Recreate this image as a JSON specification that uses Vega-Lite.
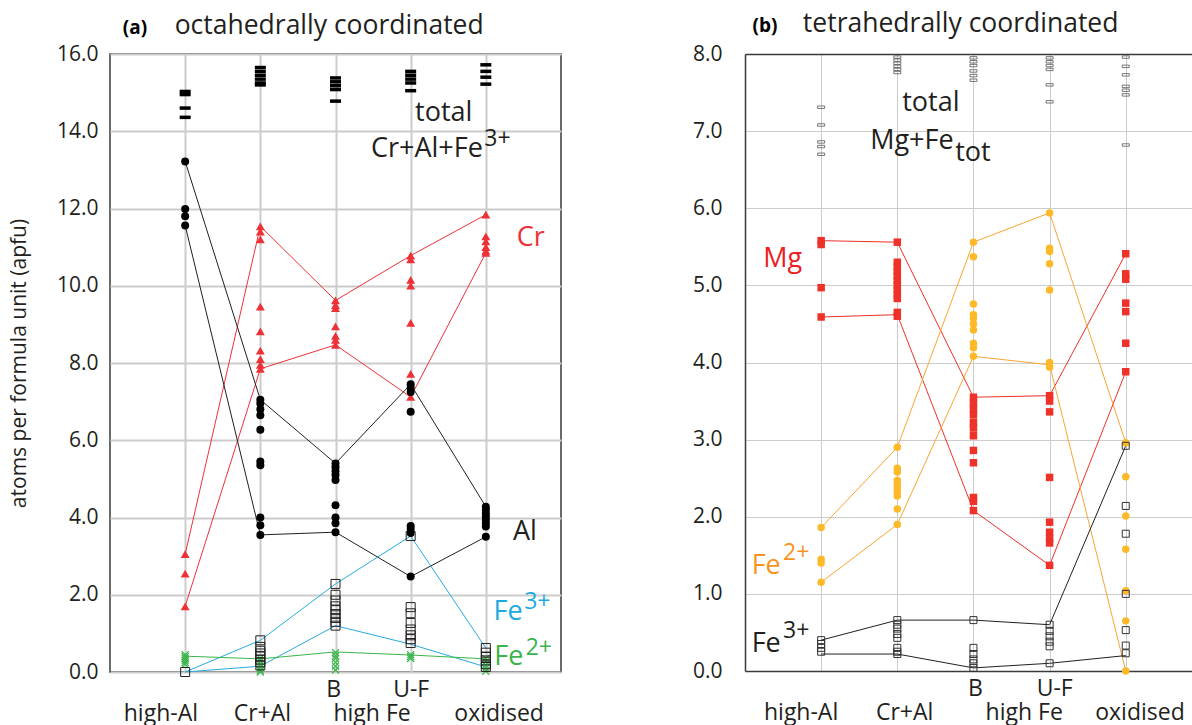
{
  "$schema": "https://vega.github.io/schema/vega-lite/v6.json",
  "padding": {"left": 7, "top": 10, "right": 0, "bottom": 0},
  "background": "white",
  "bounds": "flush",
  "spacing": 184,
  "resolve": {"scale": {"color": "independent"}},
  "config": {
    "font": "Open Sans",
    "axis": {"labelFont": "Open Sans", "titleFont": "Open Sans", "labelColor": "#231F20", "titleColor": "#231F20", "titleFontWeight": "normal"},
    "text": {"font": "Open Sans"}
  },
  "datasets": {
    "pts": [
      {"p":"a","s":"total","i":1,"v":15.03},{"p":"a","s":"total","i":1,"v":14.95},{"p":"a","s":"total","i":1,"v":14.6},{"p":"a","s":"total","i":1,"v":14.36},
      {"p":"a","s":"total","i":2,"v":15.65},{"p":"a","s":"total","i":2,"v":15.55},{"p":"a","s":"total","i":2,"v":15.45},{"p":"a","s":"total","i":2,"v":15.35},{"p":"a","s":"total","i":2,"v":15.25},{"p":"a","s":"total","i":2,"v":15.2},
      {"p":"a","s":"total","i":3,"v":15.38},{"p":"a","s":"total","i":3,"v":15.28},{"p":"a","s":"total","i":3,"v":15.18},{"p":"a","s":"total","i":3,"v":15.08},{"p":"a","s":"total","i":3,"v":14.78},
      {"p":"a","s":"total","i":4,"v":15.55},{"p":"a","s":"total","i":4,"v":15.45},{"p":"a","s":"total","i":4,"v":15.35},{"p":"a","s":"total","i":4,"v":15.25},{"p":"a","s":"total","i":4,"v":15.05},
      {"p":"a","s":"total","i":5,"v":15.72},{"p":"a","s":"total","i":5,"v":15.55},{"p":"a","s":"total","i":5,"v":15.4},{"p":"a","s":"total","i":5,"v":15.22},

      {"p":"a","s":"Cr","i":1,"v":3.05},{"p":"a","s":"Cr","i":1,"v":2.55},{"p":"a","s":"Cr","i":1,"v":1.7},
      {"p":"a","s":"Cr","i":2,"v":11.54},{"p":"a","s":"Cr","i":2,"v":11.4},{"p":"a","s":"Cr","i":2,"v":11.2},{"p":"a","s":"Cr","i":2,"v":9.46},{"p":"a","s":"Cr","i":2,"v":8.82},{"p":"a","s":"Cr","i":2,"v":8.32},{"p":"a","s":"Cr","i":2,"v":8.1},{"p":"a","s":"Cr","i":2,"v":7.95},{"p":"a","s":"Cr","i":2,"v":7.85},
      {"p":"a","s":"Cr","i":3,"v":9.62},{"p":"a","s":"Cr","i":3,"v":9.5},{"p":"a","s":"Cr","i":3,"v":9.42},{"p":"a","s":"Cr","i":3,"v":8.95},{"p":"a","s":"Cr","i":3,"v":8.7},{"p":"a","s":"Cr","i":3,"v":8.6},{"p":"a","s":"Cr","i":3,"v":8.47},
      {"p":"a","s":"Cr","i":4,"v":10.78},{"p":"a","s":"Cr","i":4,"v":10.68},{"p":"a","s":"Cr","i":4,"v":10.15},{"p":"a","s":"Cr","i":4,"v":10.0},{"p":"a","s":"Cr","i":4,"v":9.04},{"p":"a","s":"Cr","i":4,"v":7.72},{"p":"a","s":"Cr","i":4,"v":7.12},
      {"p":"a","s":"Cr","i":5,"v":11.84},{"p":"a","s":"Cr","i":5,"v":11.28},{"p":"a","s":"Cr","i":5,"v":11.15},{"p":"a","s":"Cr","i":5,"v":11.0},{"p":"a","s":"Cr","i":5,"v":10.9},{"p":"a","s":"Cr","i":5,"v":10.85},

      {"p":"a","s":"Al","i":1,"v":13.22},{"p":"a","s":"Al","i":1,"v":11.99},{"p":"a","s":"Al","i":1,"v":11.8},{"p":"a","s":"Al","i":1,"v":11.56},
      {"p":"a","s":"Al","i":2,"v":7.05},{"p":"a","s":"Al","i":2,"v":6.95},{"p":"a","s":"Al","i":2,"v":6.8},{"p":"a","s":"Al","i":2,"v":6.65},{"p":"a","s":"Al","i":2,"v":6.27},{"p":"a","s":"Al","i":2,"v":5.45},{"p":"a","s":"Al","i":2,"v":5.35},{"p":"a","s":"Al","i":2,"v":4.0},{"p":"a","s":"Al","i":2,"v":3.8},{"p":"a","s":"Al","i":2,"v":3.55},
      {"p":"a","s":"Al","i":3,"v":5.4},{"p":"a","s":"Al","i":3,"v":5.3},{"p":"a","s":"Al","i":3,"v":5.2},{"p":"a","s":"Al","i":3,"v":5.1},{"p":"a","s":"Al","i":3,"v":4.97},{"p":"a","s":"Al","i":3,"v":4.32},{"p":"a","s":"Al","i":3,"v":4.0},{"p":"a","s":"Al","i":3,"v":3.85},{"p":"a","s":"Al","i":3,"v":3.62},
      {"p":"a","s":"Al","i":4,"v":7.45},{"p":"a","s":"Al","i":4,"v":7.36},{"p":"a","s":"Al","i":4,"v":7.25},{"p":"a","s":"Al","i":4,"v":6.74},{"p":"a","s":"Al","i":4,"v":3.78},{"p":"a","s":"Al","i":4,"v":3.7},{"p":"a","s":"Al","i":4,"v":3.6},{"p":"a","s":"Al","i":4,"v":2.47},
      {"p":"a","s":"Al","i":5,"v":4.28},{"p":"a","s":"Al","i":5,"v":4.2},{"p":"a","s":"Al","i":5,"v":4.11},{"p":"a","s":"Al","i":5,"v":4.03},{"p":"a","s":"Al","i":5,"v":3.94},{"p":"a","s":"Al","i":5,"v":3.85},{"p":"a","s":"Al","i":5,"v":3.77},{"p":"a","s":"Al","i":5,"v":3.5},

      {"p":"a","s":"Fe3","i":1,"v":0.0},
      {"p":"a","s":"Fe3","i":2,"v":0.82},{"p":"a","s":"Fe3","i":2,"v":0.65},{"p":"a","s":"Fe3","i":2,"v":0.55},{"p":"a","s":"Fe3","i":2,"v":0.48},{"p":"a","s":"Fe3","i":2,"v":0.4},{"p":"a","s":"Fe3","i":2,"v":0.32},{"p":"a","s":"Fe3","i":2,"v":0.25},{"p":"a","s":"Fe3","i":2,"v":0.17},
      {"p":"a","s":"Fe3","i":3,"v":2.28},{"p":"a","s":"Fe3","i":3,"v":2.0},{"p":"a","s":"Fe3","i":3,"v":1.85},{"p":"a","s":"Fe3","i":3,"v":1.7},{"p":"a","s":"Fe3","i":3,"v":1.6},{"p":"a","s":"Fe3","i":3,"v":1.5},{"p":"a","s":"Fe3","i":3,"v":1.4},{"p":"a","s":"Fe3","i":3,"v":1.3},{"p":"a","s":"Fe3","i":3,"v":1.2},
      {"p":"a","s":"Fe3","i":4,"v":3.52},{"p":"a","s":"Fe3","i":4,"v":1.68},{"p":"a","s":"Fe3","i":4,"v":1.52},{"p":"a","s":"Fe3","i":4,"v":1.27},{"p":"a","s":"Fe3","i":4,"v":1.1},{"p":"a","s":"Fe3","i":4,"v":0.95},{"p":"a","s":"Fe3","i":4,"v":0.85},{"p":"a","s":"Fe3","i":4,"v":0.75},
      {"p":"a","s":"Fe3","i":5,"v":0.62},{"p":"a","s":"Fe3","i":5,"v":0.5},{"p":"a","s":"Fe3","i":5,"v":0.4},{"p":"a","s":"Fe3","i":5,"v":0.3},{"p":"a","s":"Fe3","i":5,"v":0.2},{"p":"a","s":"Fe3","i":5,"v":0.13},

      {"p":"a","s":"Fe2","i":1,"v":0.45},{"p":"a","s":"Fe2","i":1,"v":0.4},{"p":"a","s":"Fe2","i":1,"v":0.35},{"p":"a","s":"Fe2","i":1,"v":0.3},{"p":"a","s":"Fe2","i":1,"v":0.25},{"p":"a","s":"Fe2","i":1,"v":0.2},
      {"p":"a","s":"Fe2","i":2,"v":0.35},{"p":"a","s":"Fe2","i":2,"v":0.28},{"p":"a","s":"Fe2","i":2,"v":0.2},{"p":"a","s":"Fe2","i":2,"v":0.12},{"p":"a","s":"Fe2","i":2,"v":0.05},{"p":"a","s":"Fe2","i":2,"v":0.0},
      {"p":"a","s":"Fe2","i":3,"v":0.5},{"p":"a","s":"Fe2","i":3,"v":0.42},{"p":"a","s":"Fe2","i":3,"v":0.35},{"p":"a","s":"Fe2","i":3,"v":0.25},{"p":"a","s":"Fe2","i":3,"v":0.15},{"p":"a","s":"Fe2","i":3,"v":0.05},
      {"p":"a","s":"Fe2","i":4,"v":0.45},{"p":"a","s":"Fe2","i":4,"v":0.4},{"p":"a","s":"Fe2","i":4,"v":0.35},
      {"p":"a","s":"Fe2","i":5,"v":0.35},{"p":"a","s":"Fe2","i":5,"v":0.27},{"p":"a","s":"Fe2","i":5,"v":0.18},{"p":"a","s":"Fe2","i":5,"v":0.1},{"p":"a","s":"Fe2","i":5,"v":0.02},

      {"p":"b","s":"total","i":1,"v":7.31},{"p":"b","s":"total","i":1,"v":7.08},{"p":"b","s":"total","i":1,"v":6.86},{"p":"b","s":"total","i":1,"v":6.8},{"p":"b","s":"total","i":1,"v":6.7},
      {"p":"b","s":"total","i":2,"v":7.96},{"p":"b","s":"total","i":2,"v":7.92},{"p":"b","s":"total","i":2,"v":7.88},{"p":"b","s":"total","i":2,"v":7.84},{"p":"b","s":"total","i":2,"v":7.8},{"p":"b","s":"total","i":2,"v":7.76},
      {"p":"b","s":"total","i":3,"v":7.95},{"p":"b","s":"total","i":3,"v":7.9},{"p":"b","s":"total","i":3,"v":7.85},{"p":"b","s":"total","i":3,"v":7.78},{"p":"b","s":"total","i":3,"v":7.72},{"p":"b","s":"total","i":3,"v":7.66},
      {"p":"b","s":"total","i":4,"v":7.95},{"p":"b","s":"total","i":4,"v":7.9},{"p":"b","s":"total","i":4,"v":7.85},{"p":"b","s":"total","i":4,"v":7.8},{"p":"b","s":"total","i":4,"v":7.6},{"p":"b","s":"total","i":4,"v":7.38},
      {"p":"b","s":"total","i":5,"v":7.96},{"p":"b","s":"total","i":5,"v":7.84},{"p":"b","s":"total","i":5,"v":7.73},{"p":"b","s":"total","i":5,"v":7.58},{"p":"b","s":"total","i":5,"v":7.53},{"p":"b","s":"total","i":5,"v":7.47},{"p":"b","s":"total","i":5,"v":6.82},

      {"p":"b","s":"Mg","i":1,"v":5.58},{"p":"b","s":"Mg","i":1,"v":5.53},{"p":"b","s":"Mg","i":1,"v":4.97},{"p":"b","s":"Mg","i":1,"v":4.59},
      {"p":"b","s":"Mg","i":2,"v":5.56},{"p":"b","s":"Mg","i":2,"v":5.3},{"p":"b","s":"Mg","i":2,"v":5.24},{"p":"b","s":"Mg","i":2,"v":5.18},{"p":"b","s":"Mg","i":2,"v":5.12},{"p":"b","s":"Mg","i":2,"v":5.06},{"p":"b","s":"Mg","i":2,"v":5.0},{"p":"b","s":"Mg","i":2,"v":4.94},{"p":"b","s":"Mg","i":2,"v":4.88},{"p":"b","s":"Mg","i":2,"v":4.83},{"p":"b","s":"Mg","i":2,"v":4.65},{"p":"b","s":"Mg","i":2,"v":4.6},
      {"p":"b","s":"Mg","i":3,"v":3.55},{"p":"b","s":"Mg","i":3,"v":3.47},{"p":"b","s":"Mg","i":3,"v":3.4},{"p":"b","s":"Mg","i":3,"v":3.32},{"p":"b","s":"Mg","i":3,"v":3.22},{"p":"b","s":"Mg","i":3,"v":3.15},{"p":"b","s":"Mg","i":3,"v":3.05},{"p":"b","s":"Mg","i":3,"v":2.86},{"p":"b","s":"Mg","i":3,"v":2.7},{"p":"b","s":"Mg","i":3,"v":2.25},{"p":"b","s":"Mg","i":3,"v":2.2},{"p":"b","s":"Mg","i":3,"v":2.08},
      {"p":"b","s":"Mg","i":4,"v":3.57},{"p":"b","s":"Mg","i":4,"v":3.5},{"p":"b","s":"Mg","i":4,"v":3.36},{"p":"b","s":"Mg","i":4,"v":2.51},{"p":"b","s":"Mg","i":4,"v":1.93},{"p":"b","s":"Mg","i":4,"v":1.8},{"p":"b","s":"Mg","i":4,"v":1.72},{"p":"b","s":"Mg","i":4,"v":1.66},{"p":"b","s":"Mg","i":4,"v":1.37},
      {"p":"b","s":"Mg","i":5,"v":5.41},{"p":"b","s":"Mg","i":5,"v":5.15},{"p":"b","s":"Mg","i":5,"v":5.08},{"p":"b","s":"Mg","i":5,"v":4.77},{"p":"b","s":"Mg","i":5,"v":4.66},{"p":"b","s":"Mg","i":5,"v":4.25},{"p":"b","s":"Mg","i":5,"v":3.88},

      {"p":"b","s":"Fe2","i":1,"v":1.86},{"p":"b","s":"Fe2","i":1,"v":1.45},{"p":"b","s":"Fe2","i":1,"v":1.4},{"p":"b","s":"Fe2","i":1,"v":1.15},
      {"p":"b","s":"Fe2","i":2,"v":2.9},{"p":"b","s":"Fe2","i":2,"v":2.63},{"p":"b","s":"Fe2","i":2,"v":2.58},{"p":"b","s":"Fe2","i":2,"v":2.47},{"p":"b","s":"Fe2","i":2,"v":2.42},{"p":"b","s":"Fe2","i":2,"v":2.37},{"p":"b","s":"Fe2","i":2,"v":2.32},{"p":"b","s":"Fe2","i":2,"v":2.27},{"p":"b","s":"Fe2","i":2,"v":2.1},{"p":"b","s":"Fe2","i":2,"v":1.9},
      {"p":"b","s":"Fe2","i":3,"v":5.56},{"p":"b","s":"Fe2","i":3,"v":5.37},{"p":"b","s":"Fe2","i":3,"v":4.76},{"p":"b","s":"Fe2","i":3,"v":4.62},{"p":"b","s":"Fe2","i":3,"v":4.57},{"p":"b","s":"Fe2","i":3,"v":4.5},{"p":"b","s":"Fe2","i":3,"v":4.42},{"p":"b","s":"Fe2","i":3,"v":4.25},{"p":"b","s":"Fe2","i":3,"v":4.19},{"p":"b","s":"Fe2","i":3,"v":4.08},
      {"p":"b","s":"Fe2","i":4,"v":5.94},{"p":"b","s":"Fe2","i":4,"v":5.48},{"p":"b","s":"Fe2","i":4,"v":5.44},{"p":"b","s":"Fe2","i":4,"v":5.28},{"p":"b","s":"Fe2","i":4,"v":4.94},{"p":"b","s":"Fe2","i":4,"v":4.0},{"p":"b","s":"Fe2","i":4,"v":3.94},
      {"p":"b","s":"Fe2","i":5,"v":2.96},{"p":"b","s":"Fe2","i":5,"v":2.52},{"p":"b","s":"Fe2","i":5,"v":2.01},{"p":"b","s":"Fe2","i":5,"v":1.58},{"p":"b","s":"Fe2","i":5,"v":1.04},{"p":"b","s":"Fe2","i":5,"v":0.65},{"p":"b","s":"Fe2","i":5,"v":0.0},

      {"p":"b","s":"Fe3","i":1,"v":0.4},{"p":"b","s":"Fe3","i":1,"v":0.35},{"p":"b","s":"Fe3","i":1,"v":0.3},{"p":"b","s":"Fe3","i":1,"v":0.25},
      {"p":"b","s":"Fe3","i":2,"v":0.66},{"p":"b","s":"Fe3","i":2,"v":0.6},{"p":"b","s":"Fe3","i":2,"v":0.55},{"p":"b","s":"Fe3","i":2,"v":0.48},{"p":"b","s":"Fe3","i":2,"v":0.43},{"p":"b","s":"Fe3","i":2,"v":0.3},{"p":"b","s":"Fe3","i":2,"v":0.25},{"p":"b","s":"Fe3","i":2,"v":0.22},
      {"p":"b","s":"Fe3","i":3,"v":0.66},{"p":"b","s":"Fe3","i":3,"v":0.3},{"p":"b","s":"Fe3","i":3,"v":0.22},{"p":"b","s":"Fe3","i":3,"v":0.15},{"p":"b","s":"Fe3","i":3,"v":0.1},{"p":"b","s":"Fe3","i":3,"v":0.04},
      {"p":"b","s":"Fe3","i":4,"v":0.6},{"p":"b","s":"Fe3","i":4,"v":0.52},{"p":"b","s":"Fe3","i":4,"v":0.45},{"p":"b","s":"Fe3","i":4,"v":0.38},{"p":"b","s":"Fe3","i":4,"v":0.32},{"p":"b","s":"Fe3","i":4,"v":0.1},
      {"p":"b","s":"Fe3","i":5,"v":2.92},{"p":"b","s":"Fe3","i":5,"v":2.14},{"p":"b","s":"Fe3","i":5,"v":1.78},{"p":"b","s":"Fe3","i":5,"v":1.0},{"p":"b","s":"Fe3","i":5,"v":0.53},{"p":"b","s":"Fe3","i":5,"v":0.33},{"p":"b","s":"Fe3","i":5,"v":0.23}
    ],
    "lines": [
      {"p":"a","s":"Cr","b":"max","i":1,"v":3.05},{"p":"a","s":"Cr","b":"max","i":2,"v":11.54},{"p":"a","s":"Cr","b":"max","i":3,"v":9.62},{"p":"a","s":"Cr","b":"max","i":4,"v":10.78},{"p":"a","s":"Cr","b":"max","i":5,"v":11.84},
      {"p":"a","s":"Cr","b":"min","i":1,"v":1.7},{"p":"a","s":"Cr","b":"min","i":2,"v":7.85},{"p":"a","s":"Cr","b":"min","i":3,"v":8.47},{"p":"a","s":"Cr","b":"min","i":4,"v":7.12},{"p":"a","s":"Cr","b":"min","i":5,"v":10.85},
      {"p":"a","s":"Al","b":"max","i":1,"v":13.22},{"p":"a","s":"Al","b":"max","i":2,"v":7.05},{"p":"a","s":"Al","b":"max","i":3,"v":5.4},{"p":"a","s":"Al","b":"max","i":4,"v":7.45},{"p":"a","s":"Al","b":"max","i":5,"v":4.28},
      {"p":"a","s":"Al","b":"min","i":1,"v":11.56},{"p":"a","s":"Al","b":"min","i":2,"v":3.55},{"p":"a","s":"Al","b":"min","i":3,"v":3.62},{"p":"a","s":"Al","b":"min","i":4,"v":2.47},{"p":"a","s":"Al","b":"min","i":5,"v":3.5},
      {"p":"a","s":"Fe3","b":"max","i":1,"v":0.0},{"p":"a","s":"Fe3","b":"max","i":2,"v":0.82},{"p":"a","s":"Fe3","b":"max","i":3,"v":2.28},{"p":"a","s":"Fe3","b":"max","i":4,"v":3.52},{"p":"a","s":"Fe3","b":"max","i":5,"v":0.62},
      {"p":"a","s":"Fe3","b":"min","i":1,"v":0.0},{"p":"a","s":"Fe3","b":"min","i":2,"v":0.15},{"p":"a","s":"Fe3","b":"min","i":3,"v":1.2},{"p":"a","s":"Fe3","b":"min","i":4,"v":0.72},{"p":"a","s":"Fe3","b":"min","i":5,"v":0.13},
      {"p":"a","s":"Fe2","b":"max","i":1,"v":0.41},{"p":"a","s":"Fe2","b":"max","i":2,"v":0.34},{"p":"a","s":"Fe2","b":"max","i":3,"v":0.52},{"p":"a","s":"Fe2","b":"max","i":4,"v":0.44},{"p":"a","s":"Fe2","b":"max","i":5,"v":0.34},
      {"p":"b","s":"Mg","b":"max","i":1,"v":5.58},{"p":"b","s":"Mg","b":"max","i":2,"v":5.56},{"p":"b","s":"Mg","b":"max","i":3,"v":3.55},{"p":"b","s":"Mg","b":"max","i":4,"v":3.57},{"p":"b","s":"Mg","b":"max","i":5,"v":5.41},
      {"p":"b","s":"Mg","b":"min","i":1,"v":4.59},{"p":"b","s":"Mg","b":"min","i":2,"v":4.62},{"p":"b","s":"Mg","b":"min","i":3,"v":2.08},{"p":"b","s":"Mg","b":"min","i":4,"v":1.37},{"p":"b","s":"Mg","b":"min","i":5,"v":3.88},
      {"p":"b","s":"Fe2","b":"max","i":1,"v":1.86},{"p":"b","s":"Fe2","b":"max","i":2,"v":2.9},{"p":"b","s":"Fe2","b":"max","i":3,"v":5.56},{"p":"b","s":"Fe2","b":"max","i":4,"v":5.94},{"p":"b","s":"Fe2","b":"max","i":5,"v":2.96},
      {"p":"b","s":"Fe2","b":"min","i":1,"v":1.15},{"p":"b","s":"Fe2","b":"min","i":2,"v":1.9},{"p":"b","s":"Fe2","b":"min","i":3,"v":4.08},{"p":"b","s":"Fe2","b":"min","i":4,"v":3.97},{"p":"b","s":"Fe2","b":"min","i":5,"v":0.0},
      {"p":"b","s":"Fe3","b":"max","i":1,"v":0.4},{"p":"b","s":"Fe3","b":"max","i":2,"v":0.66},{"p":"b","s":"Fe3","b":"max","i":3,"v":0.66},{"p":"b","s":"Fe3","b":"max","i":4,"v":0.6},{"p":"b","s":"Fe3","b":"max","i":5,"v":2.92},
      {"p":"b","s":"Fe3","b":"min","i":1,"v":0.22},{"p":"b","s":"Fe3","b":"min","i":2,"v":0.22},{"p":"b","s":"Fe3","b":"min","i":3,"v":0.04},{"p":"b","s":"Fe3","b":"min","i":4,"v":0.1},{"p":"b","s":"Fe3","b":"min","i":5,"v":0.2}
    ]
  },
  "hconcat": [
    {
      "width": 451,
      "height": 618,
      "view": {"stroke": "#3a3a3a", "strokeWidth": 1.5},
      "resolve": {"axis": {"x": "independent"}},
      "layer": [
        {
          "data": {"name": "lines"},
          "transform": [{"filter": "datum.p == 'a'"}],
          "mark": {"type": "line", "strokeWidth": 1},
          "encoding": {
            "x": {"field": "i", "type": "quantitative", "scale": {"domain": [0, 6], "nice": false, "zero": false},
                  "axis": {"orient": "top", "values": [1, 2, 3, 4, 5], "grid": true, "gridColor": "#cccccc", "gridWidth": 2, "labels": false, "ticks": false, "domain": false, "title": null}},
            "y": {"field": "v", "type": "quantitative", "scale": {"domain": [0, 16], "nice": false, "zero": false},
                  "axis": {"values": [0, 2, 4, 6, 8, 10, 12, 14, 16], "format": ".1f", "grid": true, "gridColor": "#cccccc", "gridWidth": 2, "ticks": false, "domain": false, "labelFontSize": 21, "labelPadding": 12, "title": "atoms per formula unit (apfu)", "titleFontSize": 21, "titlePadding": 27}},
            "color": {"field": "s", "type": "nominal", "scale": {"domain": ["Cr", "Al", "Fe3", "Fe2"], "range": ["#ED3237", "#231F20", "#27AAE1", "#39B54A"]}, "legend": null},
            "detail": {"field": "b"}
          }
        },
        {
          "data": {"name": "pts"},
          "transform": [{"filter": "datum.p == 'a' && datum.s == 'total'"}],
          "mark": {"type": "point", "shape": "M-1,-0.32H1V0.32H-1Z", "filled": true, "color": "#000000", "size": 121, "opacity": 1},
          "encoding": {
            "x": {"field": "i", "type": "quantitative", "axis": null},
            "y": {"field": "v", "type": "quantitative"}
          }
        },
        {
          "data": {"name": "pts"},
          "transform": [{"filter": "datum.p == 'a' && datum.s == 'Fe2'"}],
          "mark": {"type": "point", "shape": "M-1,-1L1,1M1,-1L-1,1", "filled": false, "color": "#39B54A", "size": 50, "strokeWidth": 1.2, "opacity": 1},
          "encoding": {
            "x": {"field": "i", "type": "quantitative", "axis": null},
            "y": {"field": "v", "type": "quantitative"}
          }
        },
        {
          "data": {"name": "pts"},
          "transform": [{"filter": "datum.p == 'a' && datum.s == 'Cr'"}],
          "mark": {"type": "point", "shape": "triangle-up", "filled": true, "color": "#ED3237", "size": 80, "opacity": 1},
          "encoding": {
            "x": {"field": "i", "type": "quantitative", "axis": null},
            "y": {"field": "v", "type": "quantitative"}
          }
        },
        {
          "data": {"name": "pts"},
          "transform": [{"filter": "datum.p == 'a' && datum.s == 'Fe3'"}],
          "mark": {"type": "point", "shape": "square", "filled": false, "color": "#231F20", "size": 81, "strokeWidth": 1, "opacity": 1},
          "encoding": {
            "x": {"field": "i", "type": "quantitative", "axis": null},
            "y": {"field": "v", "type": "quantitative"}
          }
        },
        {
          "data": {"name": "pts"},
          "transform": [{"filter": "datum.p == 'a' && datum.s == 'Al'"}],
          "mark": {"type": "point", "shape": "circle", "filled": true, "color": "#000000", "size": 64, "opacity": 1},
          "encoding": {
            "x": {"field": "i", "type": "quantitative",
                  "axis": {"orient": "bottom", "values": [0.67, 2.02, 2.97, 3.48, 4.0, 5.17], "labelExpr": "datum.value < 1.5 ? ['', 'high-Al'] : datum.value < 2.5 ? ['', 'Cr+Al'] : datum.value < 3.2 ? 'B' : datum.value < 3.8 ? ['', 'high Fe'] : datum.value < 4.5 ? 'U-F' : ['', 'oxidised']", "grid": false, "ticks": false, "domain": false, "labelFontSize": 23, "labelPadding": 6, "labelLineHeight": 24, "labelOverlap": false, "labelFlush": false, "labelBound": false, "title": null}},
            "y": {"field": "v", "type": "quantitative"}
          }
        },
        {"data": {"values": [{}]}, "mark": {"type": "text", "text": "(a)", "fontSize": 19, "fontWeight": "bold", "align": "left", "baseline": "alphabetic", "color": "#000000"},
         "encoding": {"x": {"datum": 0.17, "type": "quantitative", "axis": null}, "y": {"datum": 16.53, "type": "quantitative"}}},
        {"data": {"values": [{}]}, "mark": {"type": "text", "text": "octahedrally coordinated", "fontSize": 26.5, "align": "left", "baseline": "alphabetic", "color": "#231F20"},
         "encoding": {"x": {"datum": 0.86, "type": "quantitative", "axis": null}, "y": {"datum": 16.53, "type": "quantitative"}}},
        {"data": {"values": [{}]}, "mark": {"type": "text", "text": "total", "fontSize": 27, "align": "center", "baseline": "middle", "color": "#231F20"},
         "encoding": {"x": {"datum": 4.44, "type": "quantitative", "axis": null}, "y": {"datum": 14.48, "type": "quantitative"}}},
        {"data": {"values": [{}]}, "mark": {"type": "text", "text": "Cr+Al+Fe", "fontSize": 27, "align": "right", "baseline": "middle", "color": "#231F20"},
         "encoding": {"x": {"datum": 4.96, "type": "quantitative", "axis": null}, "y": {"datum": 13.55, "type": "quantitative"}}},
        {"data": {"values": [{}]}, "mark": {"type": "text", "text": "3+", "fontSize": 23, "align": "left", "baseline": "middle", "color": "#231F20"},
         "encoding": {"x": {"datum": 4.98, "type": "quantitative", "axis": null}, "y": {"datum": 13.8, "type": "quantitative"}}},
        {"data": {"values": [{}]}, "mark": {"type": "text", "text": "Cr", "fontSize": 27, "align": "left", "baseline": "middle", "color": "#ED3237"},
         "encoding": {"x": {"datum": 5.41, "type": "quantitative", "axis": null}, "y": {"datum": 11.24, "type": "quantitative"}}},
        {"data": {"values": [{}]}, "mark": {"type": "text", "text": "Al", "fontSize": 27, "align": "left", "baseline": "middle", "color": "#231F20"},
         "encoding": {"x": {"datum": 5.36, "type": "quantitative", "axis": null}, "y": {"datum": 3.63, "type": "quantitative"}}},
        {"data": {"values": [{}]}, "mark": {"type": "text", "text": "Fe", "fontSize": 27, "align": "right", "baseline": "middle", "color": "#1CAAE2"},
         "encoding": {"x": {"datum": 5.49, "type": "quantitative", "axis": null}, "y": {"datum": 1.55, "type": "quantitative"}}},
        {"data": {"values": [{}]}, "mark": {"type": "text", "text": "3+", "fontSize": 23, "align": "left", "baseline": "middle", "color": "#1CAAE2"},
         "encoding": {"x": {"datum": 5.51, "type": "quantitative", "axis": null}, "y": {"datum": 1.8, "type": "quantitative"}}},
        {"data": {"values": [{}]}, "mark": {"type": "text", "text": "Fe", "fontSize": 27, "align": "right", "baseline": "middle", "color": "#39B54A"},
         "encoding": {"x": {"datum": 5.5, "type": "quantitative", "axis": null}, "y": {"datum": 0.39, "type": "quantitative"}}},
        {"data": {"values": [{}]}, "mark": {"type": "text", "text": "2+", "fontSize": 23, "align": "left", "baseline": "middle", "color": "#39B54A"},
         "encoding": {"x": {"datum": 5.53, "type": "quantitative", "axis": null}, "y": {"datum": 0.63, "type": "quantitative"}}}
      ]
    },
    {
      "width": 447,
      "height": 617,
      "view": {"stroke": null},
      "resolve": {"axis": {"x": "independent"}},
      "layer": [
        {
          "data": {"name": "lines"},
          "transform": [{"filter": "datum.p == 'b'"}],
          "mark": {"type": "line", "strokeWidth": 1},
          "encoding": {
            "x": {"field": "i", "type": "quantitative", "scale": {"domain": [0, 5.87], "nice": false, "zero": false},
                  "axis": {"orient": "top", "values": [1, 2, 3, 4, 5], "grid": true, "gridColor": "#cccccc", "gridWidth": 1, "labels": false, "ticks": false, "domain": true, "domainColor": "#3a3a3a", "domainWidth": 1.5, "title": null}},
            "y": {"field": "v", "type": "quantitative", "scale": {"domain": [0, 8], "nice": false, "zero": false},
                  "axis": {"values": [0, 1, 2, 3, 4, 5, 6, 7, 8], "format": ".1f", "grid": true, "gridColor": "#cccccc", "gridWidth": 1, "ticks": false, "domain": true, "domainColor": "#3a3a3a", "domainWidth": 1.5, "labelFontSize": 21, "labelPadding": 23, "title": null}},
            "color": {"field": "s", "type": "nominal", "scale": {"domain": ["Mg", "Fe2", "Fe3"], "range": ["#EE3129", "#F9A533", "#231F20"]}, "legend": null},
            "detail": {"field": "b"}
          }
        },
        {
          "data": {"name": "pts"},
          "transform": [{"filter": "datum.p == 'b' && datum.s == 'total'"}],
          "mark": {"type": "point", "shape": "M-1,-0.35H1V0.35H-1Z", "filled": false, "color": "#555555", "size": 49, "strokeWidth": 0.8, "opacity": 1},
          "encoding": {
            "x": {"field": "i", "type": "quantitative", "axis": null},
            "y": {"field": "v", "type": "quantitative"}
          }
        },
        {
          "data": {"name": "pts"},
          "transform": [{"filter": "datum.p == 'b' && datum.s == 'Mg'"}],
          "mark": {"type": "point", "shape": "square", "filled": true, "color": "#EE3129", "size": 56, "opacity": 1},
          "encoding": {
            "x": {"field": "i", "type": "quantitative", "axis": null},
            "y": {"field": "v", "type": "quantitative"}
          }
        },
        {
          "data": {"name": "pts"},
          "transform": [{"filter": "datum.p == 'b' && datum.s == 'Fe2'"}],
          "mark": {"type": "point", "shape": "circle", "filled": true, "color": "#FDB927", "size": 56, "opacity": 1},
          "encoding": {
            "x": {"field": "i", "type": "quantitative", "axis": null},
            "y": {"field": "v", "type": "quantitative"}
          }
        },
        {
          "data": {"name": "pts"},
          "transform": [{"filter": "datum.p == 'b' && datum.s == 'Fe3'"}],
          "mark": {"type": "point", "shape": "square", "filled": false, "color": "#333333", "size": 49, "strokeWidth": 1, "opacity": 1},
          "encoding": {
            "x": {"field": "i", "type": "quantitative",
                  "axis": {"orient": "bottom", "values": [0.73, 2.09, 3.02, 3.66, 4.06, 5.18], "labelExpr": "datum.value < 1.5 ? ['', 'high-Al'] : datum.value < 2.5 ? ['', 'Cr+Al'] : datum.value < 3.3 ? 'B' : datum.value < 3.9 ? ['', 'high Fe'] : datum.value < 4.5 ? 'U-F' : ['', 'oxidised']", "grid": false, "ticks": false, "domain": true, "domainColor": "#3a3a3a", "domainWidth": 1.5, "labelFontSize": 23, "labelPadding": 6, "labelLineHeight": 24, "labelOverlap": false, "labelFlush": false, "labelBound": false, "title": null}},
            "y": {"field": "v", "type": "quantitative"}
          }
        },
        {"data": {"values": [{}]}, "mark": {"type": "text", "text": "(b)", "fontSize": 19, "fontWeight": "bold", "align": "left", "baseline": "alphabetic", "color": "#000000"},
         "encoding": {"x": {"datum": 0.1, "type": "quantitative", "axis": null}, "y": {"datum": 8.29, "type": "quantitative"}}},
        {"data": {"values": [{}]}, "mark": {"type": "text", "text": "tetrahedrally coordinated", "fontSize": 26.5, "align": "left", "baseline": "alphabetic", "color": "#231F20"},
         "encoding": {"x": {"datum": 0.76, "type": "quantitative", "axis": null}, "y": {"datum": 8.29, "type": "quantitative"}}},
        {"data": {"values": [{}]}, "mark": {"type": "text", "text": "total", "fontSize": 27, "align": "center", "baseline": "middle", "color": "#231F20"},
         "encoding": {"x": {"datum": 2.44, "type": "quantitative", "axis": null}, "y": {"datum": 7.36, "type": "quantitative"}}},
        {"data": {"values": [{}]}, "mark": {"type": "text", "text": "Mg+Fe", "fontSize": 27, "align": "right", "baseline": "middle", "color": "#231F20"},
         "encoding": {"x": {"datum": 2.74, "type": "quantitative", "axis": null}, "y": {"datum": 6.87, "type": "quantitative"}}},
        {"data": {"values": [{}]}, "mark": {"type": "text", "text": "tot", "fontSize": 27, "align": "left", "baseline": "middle", "color": "#231F20"},
         "encoding": {"x": {"datum": 2.76, "type": "quantitative", "axis": null}, "y": {"datum": 6.72, "type": "quantitative"}}},
        {"data": {"values": [{}]}, "mark": {"type": "text", "text": "Mg", "fontSize": 27, "align": "left", "baseline": "middle", "color": "#ED1C24"},
         "encoding": {"x": {"datum": 0.24, "type": "quantitative", "axis": null}, "y": {"datum": 5.34, "type": "quantitative"}}},
        {"data": {"values": [{}]}, "mark": {"type": "text", "text": "Fe", "fontSize": 27, "align": "right", "baseline": "middle", "color": "#F7941D"},
         "encoding": {"x": {"datum": 0.47, "type": "quantitative", "axis": null}, "y": {"datum": 1.36, "type": "quantitative"}}},
        {"data": {"values": [{}]}, "mark": {"type": "text", "text": "2+", "fontSize": 23, "align": "left", "baseline": "middle", "color": "#F7941D"},
         "encoding": {"x": {"datum": 0.5, "type": "quantitative", "axis": null}, "y": {"datum": 1.53, "type": "quantitative"}}},
        {"data": {"values": [{}]}, "mark": {"type": "text", "text": "Fe", "fontSize": 27, "align": "right", "baseline": "middle", "color": "#231F20"},
         "encoding": {"x": {"datum": 0.47, "type": "quantitative", "axis": null}, "y": {"datum": 0.35, "type": "quantitative"}}},
        {"data": {"values": [{}]}, "mark": {"type": "text", "text": "3+", "fontSize": 23, "align": "left", "baseline": "middle", "color": "#231F20"},
         "encoding": {"x": {"datum": 0.5, "type": "quantitative", "axis": null}, "y": {"datum": 0.52, "type": "quantitative"}}}
      ]
    }
  ]
}
